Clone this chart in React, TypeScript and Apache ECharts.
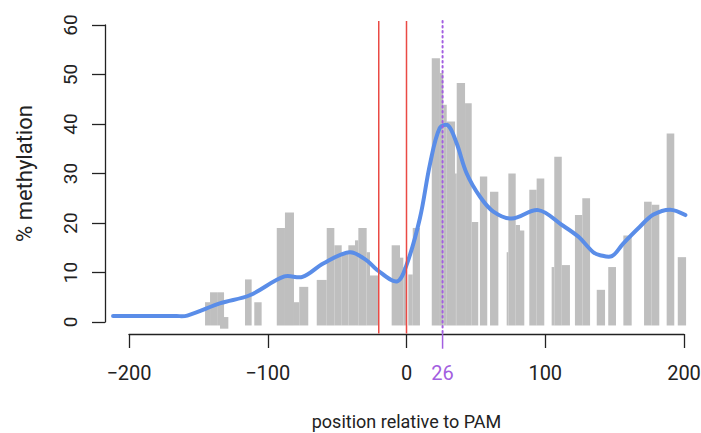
import React, { useEffect, useRef } from "react";
import * as echarts from "echarts";

// ---- data (positions relative to PAM, % methylation) ----
const barStart = [-145.2, -141.6, -136.5, -134.4, -116.4, -109.7, -93.5, -87.6, -81.1, -77.3, -64.7, -57.5, -52.0, -46.7, -41.9, -37.1, -34.7, -28.7, -26.3, -10.7, -4.7, -2.3, 1.3, 4.5, 18.2, 24.1, 26.5, 29.0, 35.0, 36.2, 42.2, 47.0, 52.9, 60.2, 72.2, 73.4, 78.7, 81.8, 88.5, 93.8, 104.6, 106.5, 111.9, 121.4, 126.7, 137.1, 145.4, 156.3, 171.2, 176.7, 187.5, 195.5];
const barEnd = [-141.6, -136.5, -131.5, -128.4, -111.6, -104.4, -87.6, -81.1, -77.3, -70.8, -57.5, -52.0, -46.7, -41.9, -37.1, -34.7, -28.7, -26.3, -20.3, -4.7, -2.3, 0.1, 4.5, 9.7, 24.1, 26.5, 29.0, 35.0, 36.2, 42.2, 47.0, 51.7, 58.2, 66.2, 73.4, 78.7, 81.8, 84.9, 93.8, 99.3, 106.5, 111.9, 117.8, 126.7, 132.3, 143.1, 151.0, 162.3, 176.7, 182.2, 193.0, 201.5];
const barValue = [4.0, 6.0, 6.0, 1.0, 8.6, 4.0, 19.0, 22.1, 4.0, 7.1, 8.5, 19.0, 15.5, 14.1, 15.5, 16.5, 19.0, 14.1, 9.4, 15.5, 13.0, 11.1, 9.6, 19.0, 53.3, 50.3, 43.9, 40.5, 30.0, 48.3, 44.2, 20.2, 29.4, 26.3, 14.1, 30.0, 19.6, 18.5, 26.7, 29.0, 11.1, 33.4, 11.5, 21.6, 25.0, 6.5, 11.1, 17.5, 24.3, 23.7, 38.1, 13.1];
const barLow = barValue.map((_, i) => (i === 3 ? -1.35 : -0.7));

const curveX = [-211.5, -195, -180, -166, -158, -134, -113, -88, -75, -60, -41, -29, -21.5, -7, 0, 9.7, 17, 24, 30, 36, 43.4, 53, 62.6, 75.8, 95, 112, 124, 134.6, 139.5, 148, 156, 168, 178, 190, 201];
const curveY = [1.2, 1.2, 1.2, 1.2, 1.3, 3.8, 5.4, 9.2, 9.1, 11.8, 14.1, 12.5, 10.6, 8.2, 11.5, 21.0, 32.0, 39.2, 39.7, 36.2, 30.0, 25.3, 22.3, 20.9, 22.6, 19.6, 17.2, 14.1, 13.5, 13.3, 15.8, 19.2, 21.7, 22.7, 21.6];

const guidePositions = [-20, 0];
const highlightPosition = 26;

const xTickValues = [-200, -100, 0, 100, 200];
const xLabelValues = [-200, -100, 0, 26, 100, 200];
const yTickValues = [0, 10, 20, 30, 40, 50, 60];

const FONT = "Roboto, 'Liberation Sans', sans-serif";
const PURPLE = "#a35fe0";
const RED = "#ea4a44";
const INK = "#222222";

export default function App() {
  const ref = useRef<HTMLDivElement>(null);

  useEffect(() => {
    if (!ref.current) return;
    const chart = echarts.init(ref.current, undefined, { renderer: "svg" });

    const barData = barStart.map((s, i) => [s, barEnd[i], barValue[i], barLow[i]]);
    const lineData = curveX.map((x, i) => [x, curveY[i]]);
    const guideData = [
      ...guidePositions.map((p) => [p, 0]),
      [highlightPosition, 1],
    ];

    chart.setOption({
      animation: false,
      backgroundColor: "#ffffff",
      grid: { left: 129, right: 17, top: 25, bottom: 111, containLabel: false, outerBoundsMode: "none" },
      xAxis: {
        type: "value",
        min: -200,
        max: 200,
        interval: 100,
        offset: 12,
        axisLine: { show: true, onZero: false, lineStyle: { color: INK, width: 1.3 } },
        axisTick: { show: true, customValues: xTickValues, length: 14, lineStyle: { color: INK, width: 1.3 } },
        axisLabel: {
          customValues: xLabelValues,
          margin: 29,
          fontSize: 20,
          fontFamily: FONT,
          color: (v: any) => (Number(v) === highlightPosition ? PURPLE : INK),
          formatter: (v: number) => (v < 0 ? "\u2212" + Math.abs(v) : String(v)),
        },
        splitLine: { show: false },
        name: "position relative to PAM",
        nameLocation: "middle",
        nameGap: 78,
        nameTextStyle: { fontSize: 18, color: INK, fontFamily: FONT },
      },
      yAxis: {
        type: "value",
        min: 0,
        max: 60,
        interval: 10,
        offset: 24,
        axisLine: { show: true, onZero: false, lineStyle: { color: INK, width: 1.3 } },
        axisTick: { show: true, customValues: yTickValues, length: 13, lineStyle: { color: INK, width: 1.3 } },
        axisLabel: { rotate: 90, margin: 25, fontSize: 19, fontFamily: FONT, color: INK },
        splitLine: { show: false },
        name: "% methylation",
        nameLocation: "middle",
        nameRotate: 90,
        nameGap: 70,
        nameTextStyle: { fontSize: 22, color: INK, fontFamily: FONT },
      },
      series: [
        {
          type: "custom",
          clip: false,
          z: 1,
          data: barData,
          encode: { x: [0, 1], y: [2, 3] },
          renderItem: (params: any, api: any) => {
            const p0 = api.coord([api.value(0), api.value(2)]);
            const p1 = api.coord([api.value(1), api.value(3)]);
            return {
              type: "rect",
              shape: { x: p0[0], y: p0[1], width: p1[0] - p0[0], height: p1[1] - p0[1] },
              style: { fill: "#bfbfbf" },
            };
          },
        },
        {
          type: "custom",
          clip: false,
          z: 2,
          data: [lineData[0]],
          encode: { x: 0, y: 1 },
          renderItem: (params: any, api: any) => {
            const pts = lineData.map((d) => api.coord(d));
            return {
              type: "polyline",
              shape: { points: pts, smooth: 0.35 },
              style: { stroke: "#5a8de8", lineWidth: 4, fill: null, lineJoin: "round", lineCap: "round" },
            };
          },
        },
        {
          type: "custom",
          clip: false,
          z: 3,
          data: guideData,
          encode: { x: 0 },
          renderItem: (params: any, api: any) => {
            const x = api.value(0);
            const kind = api.value(1);
            const top = api.coord([x, 60.8]);
            const bot = api.coord([x, -2.3]);
            if (kind === 0) {
              return {
                type: "line",
                shape: { x1: top[0], y1: top[1], x2: bot[0], y2: bot[1] },
                style: { stroke: RED, lineWidth: 1.5 },
              };
            }
            const tick = api.coord([x, -5.4]);
            return {
              type: "group",
              children: [
                {
                  type: "line",
                  shape: { x1: top[0], y1: top[1], x2: bot[0], y2: bot[1] },
                  style: { stroke: PURPLE, lineWidth: 2, lineDash: [1.5, 3.5], lineCap: "round" },
                },
                {
                  type: "line",
                  shape: { x1: bot[0], y1: bot[1], x2: tick[0], y2: tick[1] },
                  style: { stroke: PURPLE, lineWidth: 1.5 },
                },
              ],
            };
          },
        },
      ],
    });

    return () => chart.dispose();
  }, []);

  return (
    <div
      ref={ref}
      style={{ position: "fixed", left: 0, top: 0, width: 701, height: 433, background: "#fff" }}
    />
  );
}
